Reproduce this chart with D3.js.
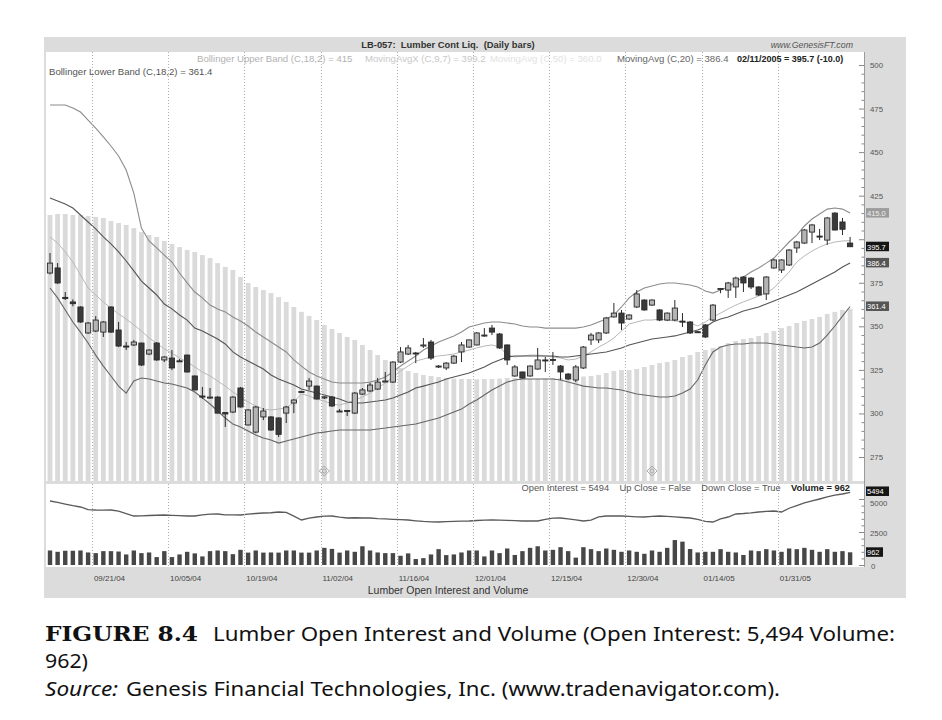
<!DOCTYPE html>
<html><head><meta charset="utf-8">
<script src="https://cdn.jsdelivr.net/npm/d3@7"></script>
<style>body{margin:0;background:#fff}svg{display:block}</style>
</head><body><svg id="c" width="942" height="720"></svg>
<script>
// ---------- DATA ----------
const dates = [
"09/13/04","09/14/04","09/15/04","09/16/04","09/17/04","09/20/04","09/21/04","09/22/04","09/23/04","09/24/04","09/27/04","09/28/04","09/29/04","09/30/04",
"10/01/04","10/04/04","10/05/04","10/06/04","10/07/04","10/08/04","10/11/04","10/12/04","10/13/04","10/14/04","10/15/04","10/18/04","10/19/04","10/20/04","10/21/04","10/22/04","10/25/04","10/26/04","10/27/04","10/28/04","10/29/04",
"11/01/04","11/02/04","11/03/04","11/04/04","11/05/04","11/08/04","11/09/04","11/10/04","11/11/04","11/12/04","11/15/04","11/16/04","11/17/04","11/18/04","11/19/04","11/22/04","11/23/04","11/24/04","11/26/04","11/29/04","11/30/04",
"12/01/04","12/02/04","12/03/04","12/06/04","12/07/04","12/08/04","12/09/04","12/10/04","12/13/04","12/14/04","12/15/04","12/16/04","12/17/04","12/20/04","12/21/04","12/22/04","12/23/04","12/27/04","12/28/04","12/29/04","12/30/04",
"01/03/05","01/04/05","01/05/05","01/06/05","01/07/05","01/10/05","01/11/05","01/12/05","01/13/05","01/14/05","01/18/05","01/19/05","01/20/05","01/21/05","01/24/05","01/25/05","01/26/05","01/27/05","01/28/05","01/31/05",
"02/01/05","02/02/05","02/03/05","02/04/05","02/07/05","02/08/05","02/09/05","02/10/05","02/11/05"];

const opens  = [380.6,383.5,366.6,364.0,361.1,346.2,347.3,346.7,361.1,347.9,338.7,339.3,340.4,334.1,340.4,330.7,331.8,330.2,333.5,321.5,310.0,309.0,309.4,300.5,300.8,314.6,293.4,289.3,298.0,298.0,297.4,300.2,306.0,312.3,315.7,315.7,308.9,309.4,301.4,301.7,300.2,311.1,312.9,314.0,318.3,318.0,329.5,334.1,334.7,338.7,341.0,327.2,326.1,328.9,335.3,338.1,339.3,344.5,349.0,345.6,339.3,321.5,323.8,321.5,325.5,330.7,331.0,327.2,322.6,319.2,326.1,342.2,342.2,346.2,355.4,357.6,354.2,361.1,365.1,362.2,359.4,353.6,353.6,353.0,352.5,346.9,350.8,353.6,371.4,370.8,372.6,378.3,377.7,372.6,368.6,383.5,382.3,385.2,395.0,397.8,404.1,401.8,399.5,415.0,409.9,397.8];
const highs  = [392.1,386.3,369.7,365.5,361.5,352.5,355.9,353.0,361.5,352.5,341.0,342.2,340.6,336.9,341.0,332.9,336.4,331.2,333.8,321.8,315.2,314.6,309.9,300.8,309.9,315.2,302.5,304.3,303.1,298.5,297.8,304.3,308.3,313.0,320.3,316.0,310.0,310.0,302.5,302.0,312.3,314.6,317.5,320.3,323.8,330.0,338.1,339.3,335.3,343.3,342.2,327.8,329.5,333.5,341.0,342.5,346.7,349.0,350.8,346.2,339.6,327.8,324.0,327.6,337.6,332.4,335.3,327.8,323.2,327.8,338.7,346.2,346.7,355.4,363.4,359.4,357.0,370.8,365.5,365.5,359.9,358.0,365.1,357.6,353.0,347.3,351.3,362.8,372.0,375.5,378.5,378.8,378.3,373.0,378.8,388.8,388.5,394.4,399.0,405.9,408.8,405.9,412.8,415.5,412.2,401.3];
const lows   = [379.8,374.3,365.1,361.5,352.0,345.6,346.7,343.9,346.2,338.1,336.4,338.7,327.2,333.5,330.2,329.5,324.9,329.8,323.5,313.2,308.3,308.3,300.0,292.2,300.2,303.4,293.0,288.7,296.2,290.0,286.5,294.5,300.2,312.0,313.5,308.0,308.3,303.7,301.0,298.5,299.7,310.6,312.3,313.5,318.0,317.5,328.9,333.5,328.9,337.6,330.7,326.1,324.9,328.4,329.5,337.6,339.0,344.0,345.0,337.0,327.8,321.0,320.0,321.0,325.0,323.8,327.8,319.2,319.2,318.0,325.5,339.3,340.4,345.6,355.0,347.9,353.6,360.5,359.0,361.7,353.0,353.0,353.0,349.6,345.6,346.2,343.3,353.0,369.0,366.3,366.3,369.7,371.4,367.4,365.1,383.0,380.6,384.6,392.1,397.3,397.8,399.5,396.7,405.0,402.4,395.5];
const closes = [386.3,374.9,366.0,363.0,352.5,351.9,353.6,352.5,346.7,338.7,338.1,341.0,327.8,336.4,330.7,332.4,326.1,330.0,323.8,313.5,309.4,309.4,300.2,299.7,309.4,303.7,302.0,303.7,301.4,290.5,288.0,303.7,307.7,312.6,318.6,308.3,309.5,304.3,301.4,301.4,311.7,313.5,316.3,318.0,318.6,329.5,335.3,337.6,334.4,339.3,331.8,327.2,328.9,332.9,339.3,342.2,346.2,345.0,346.7,337.6,330.7,326.7,320.3,327.2,330.7,330.4,330.7,323.8,319.8,326.7,338.1,345.0,346.2,354.8,357.6,351.9,356.5,368.6,359.4,365.1,353.6,357.6,360.5,352.7,346.2,346.5,343.9,362.2,371.7,374.9,377.7,374.9,372.6,368.0,378.3,388.1,388.1,393.8,398.4,405.3,408.2,401.5,412.2,405.3,405.7,395.7];

const upperBand = [477.0,477.0,477.0,475.3,473.0,468.4,463.8,458.7,453.5,447.8,439.7,426.5,406.4,399.0,395.0,390.9,386.9,380.6,374.9,369.7,366.3,362.2,360.0,358.3,355.4,353.1,350.2,346.7,343.9,341.0,338.1,335.3,330.7,327.2,323.8,321.5,319.8,318.0,317.5,317.5,317.5,317.5,318.0,319.2,320.9,323.8,327.2,330.1,333.0,336.4,338.7,341.0,342.7,344.5,346.7,349.6,350.8,351.9,352.5,352.5,351.9,351.3,350.2,349.6,349.6,349.0,349.0,349.0,349.0,349.0,349.6,350.8,352.5,354.2,356.5,361.1,366.3,369.7,372.0,373.1,374.3,374.9,374.9,374.3,373.7,372.6,370.3,369.1,370.8,372.6,375.4,378.3,381.2,383.5,386.3,389.2,393.8,398.4,402.4,407.6,411.6,414.5,417.3,417.9,417.3,415.0];
const movingAvg20 = [423.7,421.9,420.2,417.9,413.9,409.9,405.9,401.3,397.3,392.7,387.5,381.8,376.0,372.0,368.0,362.8,360.0,356.5,353.6,349.0,347.3,345.0,342.7,339.9,335.3,332.4,330.1,327.8,325.5,322.1,319.8,318.0,316.3,314.0,312.9,311.7,310.6,309.4,308.3,306.6,306.0,306.0,306.6,307.1,307.7,308.9,310.6,312.3,314.6,315.7,316.9,318.0,319.8,320.9,322.1,323.2,324.9,326.7,328.9,330.7,332.4,333.0,333.0,333.0,333.0,333.0,333.0,332.4,332.4,333.0,333.5,334.1,334.7,335.3,336.4,337.6,339.3,340.4,341.6,342.7,343.3,343.9,344.5,345.6,346.7,347.9,349.6,352.5,354.2,355.4,357.1,358.8,360.0,361.1,362.8,364.5,366.3,368.0,369.7,372.0,374.3,376.6,378.9,381.2,384.1,386.4];
const movingAvgX = [401.3,397.8,392.7,386.9,379.5,372.0,368.0,364.0,360.5,357.1,354.2,350.8,347.3,343.3,340.4,337.0,334.7,331.8,329.5,326.7,323.8,321.5,318.6,315.7,312.3,309.4,306.6,304.3,302.5,302.0,302.5,303.1,306.6,311.2,310.0,308.3,307.1,305.4,304.8,306.0,307.7,309.4,311.7,314.6,317.5,320.9,324.4,327.2,330.1,331.2,332.4,333.0,333.5,334.1,335.3,336.4,337.6,338.7,339.3,338.1,333.5,332.4,333.0,333.5,333.5,333.0,332.4,331.8,330.7,331.2,333.0,335.3,338.1,340.4,343.3,347.3,351.3,352.5,353.6,353.6,354.2,353.6,353.1,352.5,351.9,350.2,352.5,355.4,357.6,360.0,362.2,364.0,365.7,367.4,369.1,372.0,376.6,381.2,386.9,390.4,393.2,395.5,397.3,398.4,399.0,399.2];
const lowerBand = [372.0,366.3,359.4,352.5,346.7,340.4,333.5,327.2,321.5,315.7,311.7,318.6,320.3,319.8,318.6,317.5,316.9,315.7,314.6,312.3,308.9,305.4,301.4,297.4,293.9,292.2,289.9,287.6,285.9,284.8,283.0,284.2,285.3,286.5,287.6,288.8,289.3,289.9,290.5,290.5,290.5,290.5,290.5,291.1,291.6,292.2,292.8,293.4,293.9,295.1,296.2,297.4,299.1,300.8,302.5,305.4,307.7,310.6,313.5,315.7,318.0,319.2,319.8,319.8,319.8,319.8,319.8,319.2,318.0,316.9,315.7,315.2,314.6,314.6,314.0,313.5,312.3,311.2,310.6,310.0,309.4,309.4,310.0,311.7,314.0,319.2,327.8,335.3,338.1,339.3,339.9,339.9,340.4,340.4,340.4,339.9,339.3,338.7,338.1,337.6,338.1,340.4,345.0,350.2,355.9,361.4];
const movingAvg50 = [413.9,414.5,414.5,413.9,413.9,413.3,412.8,412.2,410.5,409.3,408.2,406.4,404.1,402.4,401.3,399.0,397.3,395.5,393.8,392.7,390.9,389.2,386.3,384.1,382.3,378.3,374.9,372.6,370.8,369.1,366.8,364.0,361.1,358.3,356.0,353.6,350.8,348.5,346.2,343.9,342.2,339.3,336.4,333.5,330.7,328.4,326.1,324.4,323.2,322.1,321.5,320.9,320.3,320.0,319.8,319.8,319.6,319.8,319.8,320.0,320.3,320.3,320.0,319.8,319.8,320.0,320.3,320.3,320.5,320.9,321.2,321.5,322.1,323.2,324.4,324.9,324.9,325.5,326.7,327.8,328.9,329.5,330.7,332.4,333.5,335.3,336.4,337.6,338.7,340.4,341.6,342.7,343.3,344.5,346.2,347.3,349.0,350.2,351.9,353.1,354.2,355.4,357.1,358.3,359.4,360.0];

const openInterest = [4848,4750,4620,4500,4394,4200,4167,4150,4167,4080,3900,3712,3720,3750,3770,3788,3760,3740,3712,3712,3790,3850,3864,3800,3790,3788,3850,3900,3939,3960,4015,3980,3700,3409,3550,3636,3700,3712,3620,3561,3580,3561,3561,3520,3500,3460,3430,3409,3350,3300,3270,3258,3280,3300,3320,3333,3370,3400,3409,3400,3380,3360,3333,3340,3333,3450,3550,3561,3500,3420,3333,3400,3650,3712,3720,3712,3690,3650,3636,3680,3712,3680,3640,3600,3561,3450,3300,3258,3500,3636,3864,3900,3950,4015,4060,4091,4015,4300,4500,4700,4850,5000,5152,5300,5379,5494];
const volume = [1100,1000,1080,1080,1100,950,900,1050,1050,1020,800,1100,900,950,600,1050,600,800,1000,880,650,1050,1100,1050,820,1150,940,1100,940,950,940,1100,1100,940,940,1100,1300,1220,940,1100,1000,1420,1100,950,900,900,700,880,450,520,800,1200,750,800,950,1100,1100,650,1100,900,1250,760,1050,1300,1420,1100,1150,1350,1050,560,1350,1200,1050,1250,1150,1000,1100,1000,850,1100,1000,1300,1890,1770,1210,950,1000,1000,1200,1000,950,760,1100,1050,1200,1100,1000,1250,1200,1300,1150,1000,1200,1000,1050,962];

const priceTickLabels = [275,300,325,350,375,425,450,475,500];
const volumeTicks = [0,2500,5000];
const dateLabels = ["09/21/04","10/05/04","10/19/04","11/02/04","11/16/04","12/01/04","12/15/04","12/30/04","01/14/05","01/31/05"];
const markerDates = ["11/02/04","01/05/05"];

// ---------- LAYOUT ----------
const svg = d3.select("#c");
const plotL = 46, plotR = 864, priceTop = 52, priceBot = 481, volTop = 484, volBot = 567;
const font = "'Liberation Sans', Arial, sans-serif";

const x = d3.scalePoint().domain(dates).range([50, 850.1]);
const step = x.step();
const y = d3.scaleLinear().domain([275, 500]).range([457, 65]);
const yv = d3.scaleLinear().domain([0, 5000]).range([565, 499]);

svg.append("rect").attr("width",942).attr("height",720).attr("fill","#fff");
svg.append("rect").attr("x",44).attr("y",37).attr("width",862).attr("height",561).attr("fill","#dcdcdc");
svg.append("rect").attr("x",plotL).attr("y",priceTop).attr("width",plotR-plotL).attr("height",priceBot-priceTop).attr("fill","#fff");
svg.append("rect").attr("x",plotL).attr("y",volTop).attr("width",plotR-plotL).attr("height",volBot-volTop).attr("fill","#fff");

const defs = svg.append("defs");
defs.append("clipPath").attr("id","cp").append("rect").attr("x",plotL).attr("y",priceTop).attr("width",plotR-plotL).attr("height",priceBot-priceTop);
defs.append("clipPath").attr("id","cv").append("rect").attr("x",plotL).attr("y",volTop).attr("width",plotR-plotL).attr("height",volBot-volTop);

const gp = svg.append("g").attr("clip-path","url(#cp)");
const gv = svg.append("g").attr("clip-path","url(#cv)");

// MA50 histogram
gp.selectAll("rect.h").data(dates).join("rect")
  .attr("x", d => x(d) - 2.4).attr("width", 4.8)
  .attr("y", (d,i) => y(movingAvg50[i])).attr("height", (d,i) => priceBot - y(movingAvg50[i]))
  .attr("fill", "#dadada");

// vertical dotted grid
dateLabels.forEach(d => {
  const gx = Math.round(x(d) - step/2) + 0.5;
  [[priceTop,priceBot],[volTop,volBot]].forEach(([a,b]) =>
    svg.append("line").attr("x1",gx).attr("x2",gx).attr("y1",a).attr("y2",b)
      .attr("stroke","#b0b0b0").attr("stroke-dasharray","1,2"));
});

// indicator lines
const line = arr => d3.line().x((d,i) => x(dates[i])).y(d => y(d))(arr);
gp.append("path").attr("d", line(movingAvgX)).attr("fill","none").attr("stroke","#b8b8b8").attr("stroke-width",1);
gp.append("path").attr("d", line(upperBand)).attr("fill","none").attr("stroke","#8c8c8c").attr("stroke-width",1.1);
gp.append("path").attr("d", line(movingAvg20)).attr("fill","none").attr("stroke","#555").attr("stroke-width",1.1);
gp.append("path").attr("d", line(lowerBand)).attr("fill","none").attr("stroke","#666").attr("stroke-width",1.1);

// candles
const cg = gp.append("g");
dates.forEach((d,i) => {
  const cx = x(d), up = closes[i] >= opens[i];
  cg.append("line").attr("x1",cx).attr("x2",cx).attr("y1",y(highs[i])).attr("y2",y(lows[i]))
    .attr("stroke","#2a2a2a").attr("stroke-width",1);
  const top = y(Math.max(opens[i],closes[i])), bot = y(Math.min(opens[i],closes[i]));
  cg.append("rect").attr("x",cx-2.6).attr("width",5.2).attr("y",top).attr("height",Math.max(1,bot-top))
    .attr("fill", up ? "#b4b4b4" : "#3a3a3a").attr("stroke","#2a2a2a").attr("stroke-width",0.9);
});

// roll markers
markerDates.forEach(d => {
  const m = svg.append("g").attr("transform",`translate(${x(d)},471)`).attr("fill","none").attr("stroke","#a0a0a0").attr("stroke-width",0.9);
  m.append("path").attr("d","M0,-5L5,0L0,5L-5,0Z");
  m.append("circle").attr("r",2);
});

// volume pane
gv.selectAll("rect.v").data(dates).join("rect")
  .attr("x", d => x(d) - 2.2).attr("width", 4.4)
  .attr("y", (d,i) => yv(volume[i])).attr("height", (d,i) => yv(0) - yv(volume[i]))
  .attr("fill", "#474747");
gv.append("path").attr("d", d3.line().x((d,i)=>x(dates[i])).y(d=>yv(d))(openInterest))
  .attr("fill","none").attr("stroke","#5a5a5a").attr("stroke-width",1.3);

// right axis
svg.append("line").attr("x1",plotR+0.5).attr("x2",plotR+0.5).attr("y1",priceTop).attr("y2",volBot).attr("stroke","#9a9a9a");
for (let v = 275; v <= 500; v += 5) {
  const major = v % 25 === 0;
  svg.append("line").attr("x1", plotR - (major ? 5 : 2.5)).attr("x2", plotR).attr("y1", y(v)+0.5).attr("y2", y(v)+0.5).attr("stroke","#888");
}
svg.append("g").selectAll("text").data(priceTickLabels).join("text")
  .attr("x",870).attr("y",d=>y(d)+3).text(d=>d)
  .attr("font-family",font).attr("font-size",7.8).attr("fill","#555");
for (let v = 0; v <= 5000; v += 500) {
  const major = v % 2500 === 0;
  svg.append("line").attr("x1", plotR - (major ? 5 : 2.5)).attr("x2", plotR).attr("y1", yv(v)+0.5).attr("y2", yv(v)+0.5).attr("stroke","#888");
}
svg.append("g").selectAll("text").data(volumeTicks).join("text")
  .attr("x",d => d===0 ? 871 : 870).attr("y",d=> d===5000 ? yv(d)+6.5 : yv(d)+3.5).text(d=>d)
  .attr("font-family",font).attr("font-size",7.8).attr("fill","#555");

// value boxes
const last = dates.length - 1;
const boxes = [
  {v: upperBand[last], t: upperBand[last].toFixed(1), bg:"#9c9c9c", fg:"#eee", s:y, dy:0},
  {v: closes[last], t: closes[last].toFixed(1), bg:"#151515", fg:"#fff", s:y, dy:0},
  {v: movingAvg20[last], t: movingAvg20[last].toFixed(1), bg:"#555", fg:"#fff", s:y, dy:0},
  {v: lowerBand[last], t: lowerBand[last].toFixed(1), bg:"#555", fg:"#fff", s:y, dy:0},
  {v: openInterest[last], t: String(openInterest[last]), bg:"#151515", fg:"#fff", s:yv, dy:-1},
  {v: volume[last], t: String(volume[last]), bg:"#151515", fg:"#fff", s:yv, dy:0}
];
boxes.forEach(b => {
  const by = b.s(b.v) + b.dy;
  svg.append("rect").attr("x",866).attr("y",by-5).attr("width",b.t.length>3?23:17).attr("height",9.5).attr("fill",b.bg);
  svg.append("text").attr("x",867).attr("y",by+2.8).text(b.t).attr("font-family",font).attr("font-size",7.5).attr("fill",b.fg);
});

// date labels
svg.append("g").selectAll("text").data(dateLabels).join("text")
  .attr("x", d => x(d) - step/2 + 2).attr("y", 581).text(d => d)
  .attr("font-family",font).attr("font-size",8).attr("fill","#444");
svg.append("text").attr("x",448).attr("y",594).attr("text-anchor","middle").text("Lumber Open Interest and Volume")
  .attr("font-family",font).attr("font-size",10.5).attr("fill","#333");

// header & legends
svg.append("text").attr("x",448).attr("y",48).attr("text-anchor","middle")
  .text("LB-057:  Lumber Cont Liq.  (Daily bars)").attr("font-family",font).attr("font-size",9.4).attr("font-weight","bold").attr("fill","#333").style("white-space","pre");
svg.append("text").attr("x",853).attr("y",48).attr("text-anchor","end")
  .text("www.GenesisFT.com").attr("font-family",font).attr("font-size",8.8).attr("font-style","italic").attr("fill","#555");
const leg = (tx, xx, yy, col, bold) => svg.append("text").attr("x",xx).attr("y",yy).text(tx)
  .attr("font-family",font).attr("font-size",bold?9:9.6).attr("fill",col).attr("font-weight",bold?"bold":"normal");
leg(`Bollinger Upper Band (C,18,2) = ${Math.round(upperBand[last])}`, 197, 62, "#b2b2b2");
leg(`MovingAvgX (C,9,7) = ${movingAvgX[last].toFixed(1)}`, 365, 62, "#c8c8c8");
leg(`MovingAvg (C,50) = ${movingAvg50[last].toFixed(1)}`, 490, 62, "#e2e2e2");
leg(`MovingAvg (C,20) = ${movingAvg20[last].toFixed(1)}`, 617, 62, "#666");
leg(`02/11/2005 = ${closes[last].toFixed(1)} (-10.0)`, 737, 62, "#222", true);
leg(`Bollinger Lower Band (C,18,2) = ${lowerBand[last].toFixed(1)}`, 49, 75, "#555");

const vl = svg.append("text").attr("x",850).attr("y",491).attr("text-anchor","end")
  .attr("font-family",font).attr("font-size",9.3).attr("fill","#555").style("white-space","pre");
vl.append("tspan").text(`Open Interest = ${openInterest[last]}    Up Close = False    Down Close = True    `);
vl.append("tspan").attr("font-weight","bold").attr("fill","#222").text(`Volume = ${volume[last]}`);

// caption
svg.append("text").attr("x",45).attr("y",641).text("FIGURE 8.4")
  .attr("font-family","'DejaVu Serif', serif").attr("font-weight","bold").attr("font-size",20)
  .attr("textLength",153).attr("lengthAdjust","spacingAndGlyphs").attr("fill","#111");
svg.append("text").attr("x",213).attr("y",641).text("Lumber Open Interest and Volume (Open Interest: 5,494 Volume:")
  .attr("font-family","'Noto Sans', sans-serif").attr("font-size",19)
  .attr("textLength",682).attr("lengthAdjust","spacingAndGlyphs").attr("fill","#111");
svg.append("text").attr("x",45).attr("y",668).text("962)")
  .attr("font-family","'Noto Sans', sans-serif").attr("font-size",19)
  .attr("textLength",43).attr("lengthAdjust","spacingAndGlyphs").attr("fill","#111");
svg.append("text").attr("x",45).attr("y",696).text("Source:")
  .attr("font-family","'Noto Sans', sans-serif").attr("font-style","italic").attr("font-size",19)
  .attr("textLength",73).attr("lengthAdjust","spacingAndGlyphs").attr("fill","#111");
svg.append("text").attr("x",126).attr("y",696).text("Genesis Financial Technologies, Inc. (www.tradenavigator.com).")
  .attr("font-family","'Noto Sans', sans-serif").attr("font-size",19)
  .attr("textLength",654).attr("lengthAdjust","spacingAndGlyphs").attr("fill","#111");
</script></body></html>
